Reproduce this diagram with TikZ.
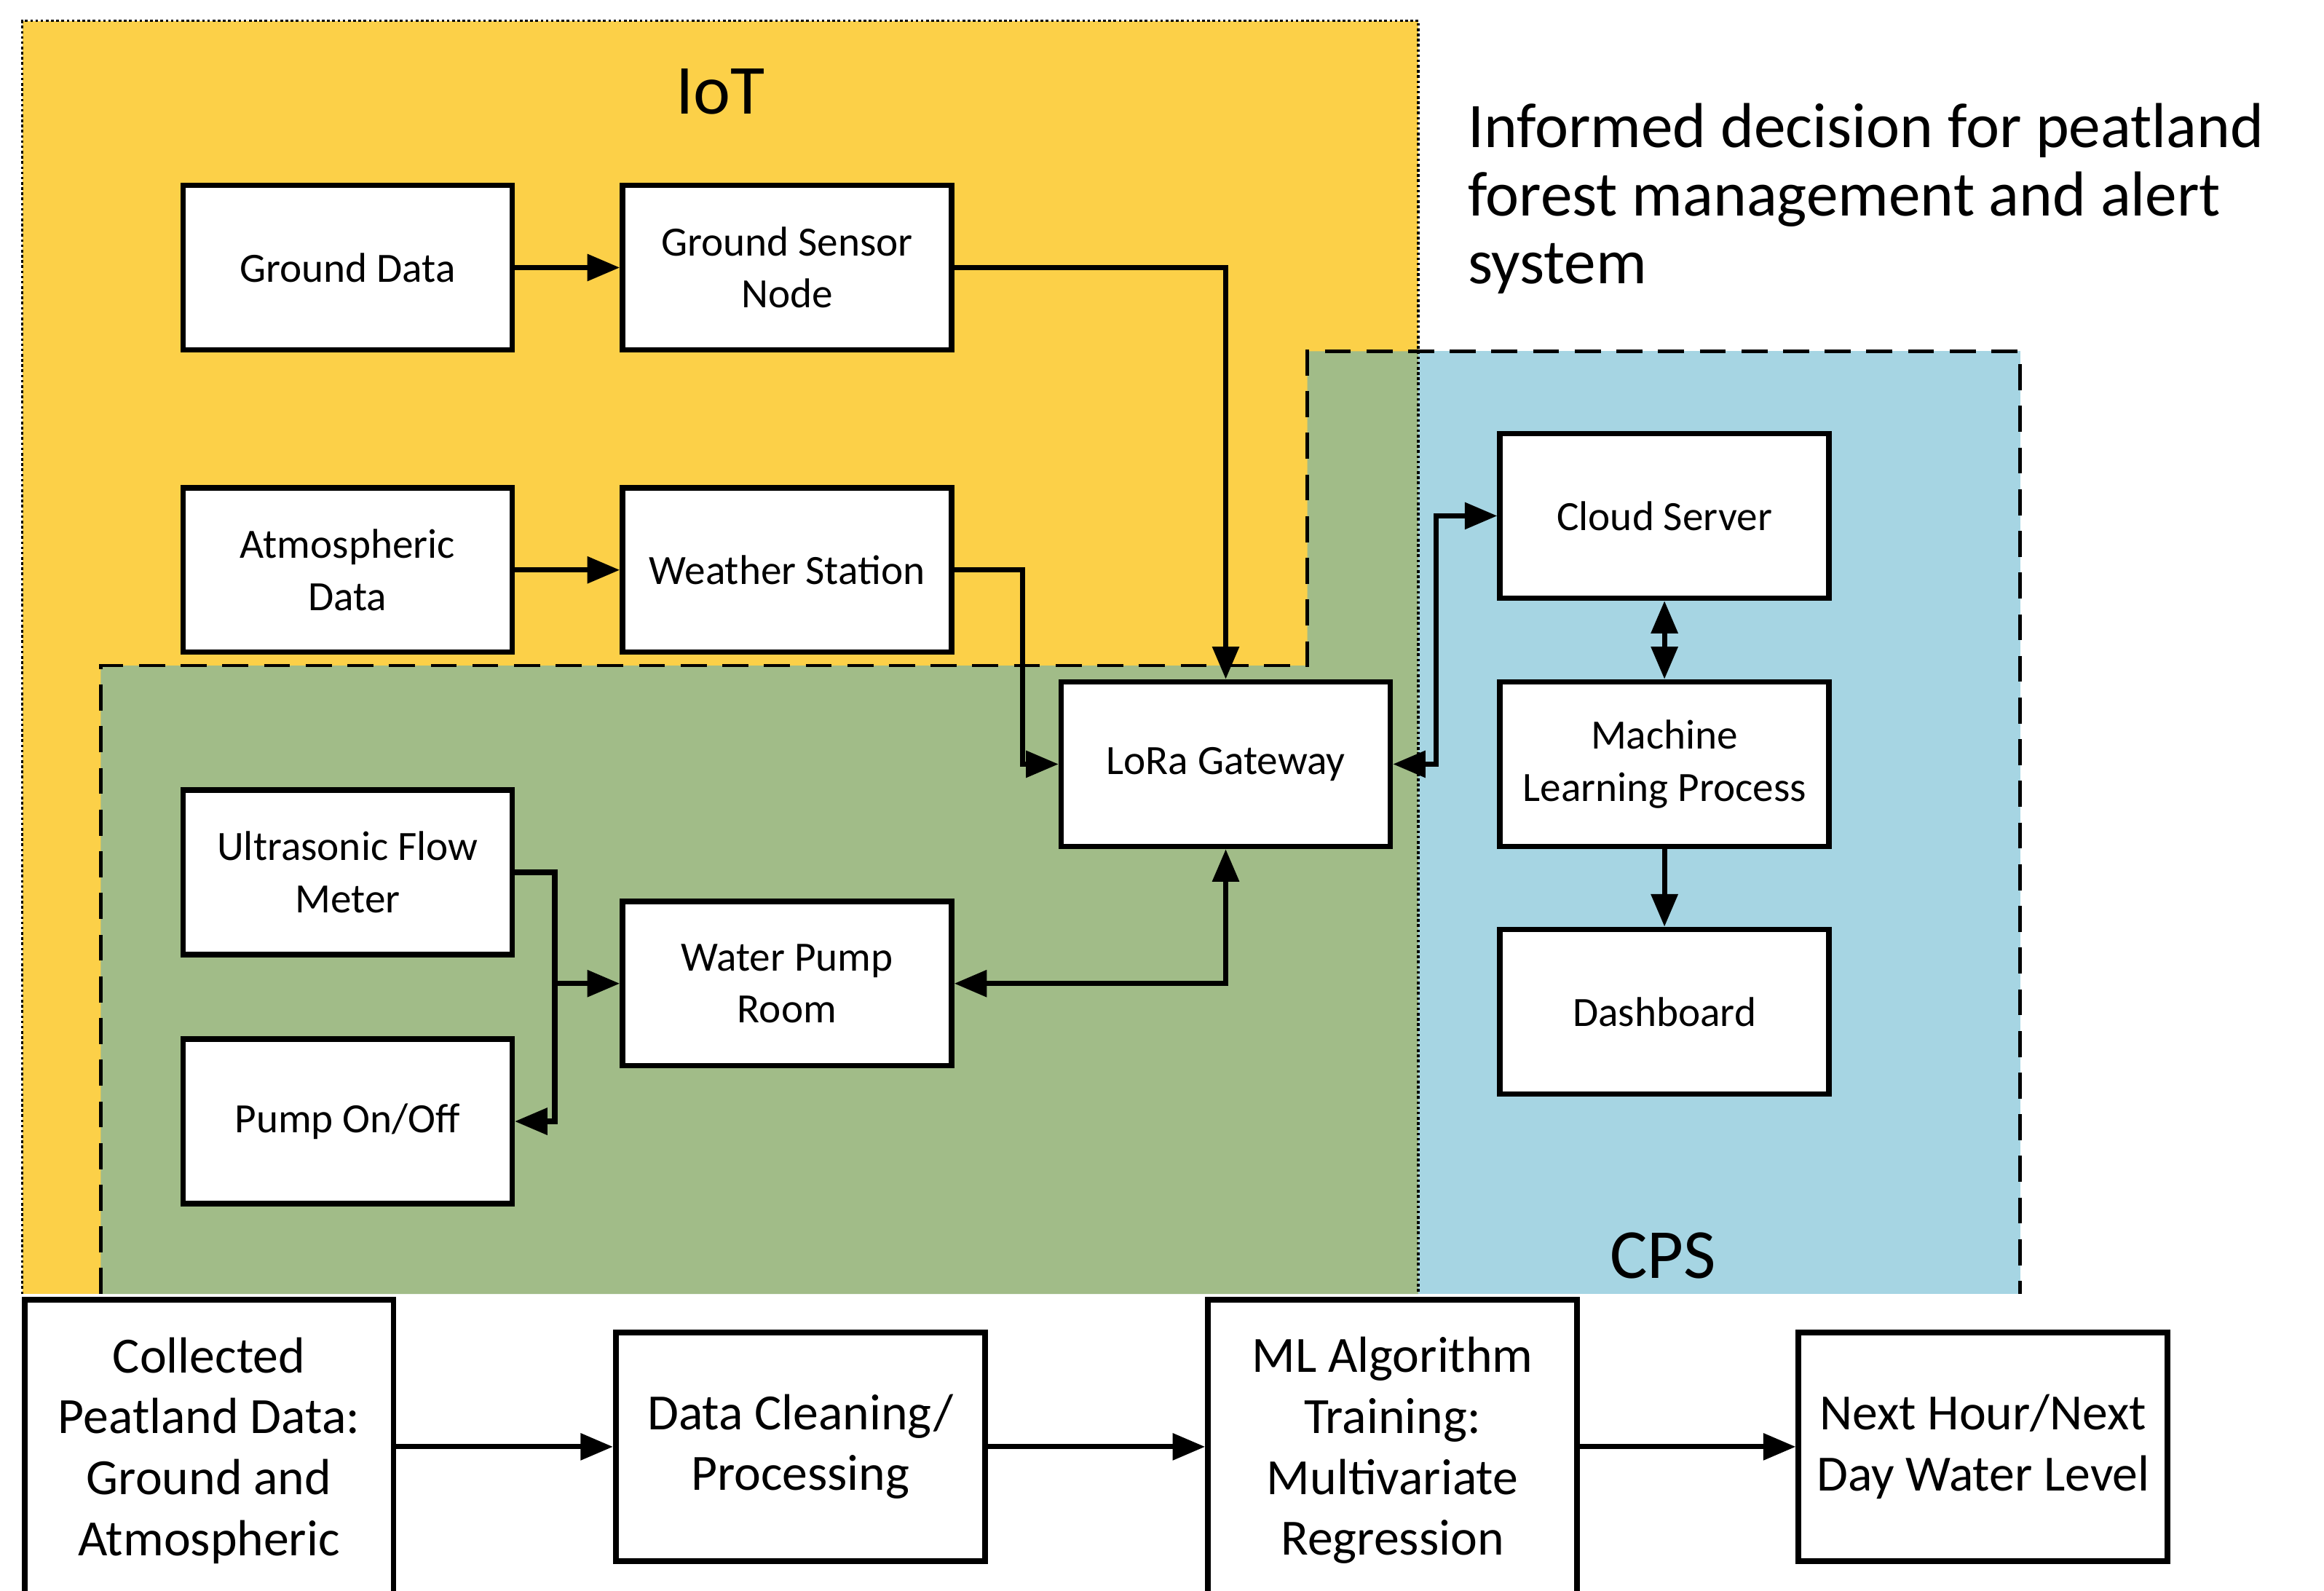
\documentclass[tikz,border=0pt]{standalone}
\usepackage{fontspec}
\setmainfont{Carlito}
\usetikzlibrary{arrows.meta}
\definecolor{iotyellow}{RGB}{252,208,72}
\definecolor{overgreen}{RGB}{161,188,136}
\definecolor{cpsblue}{RGB}{166,213,227}
\tikzset{
  tip/.tip={Triangle[length=12.5pt,width=10pt]},
  box/.style={draw, line width=2.1pt, fill=white, minimum width=4.44cm, minimum height=2.22cm,
    align=center, inner sep=0pt, font=\fontsize{16}{20}\selectfont},
  flowbox/.style={draw, line width=2.2pt, fill=white, minimum width=4.98cm,
    align=center, inner sep=0pt, font=\fontsize{19.5}{23.4}\selectfont},
  conn/.style={line width=2pt, -tip},
  conn2/.style={line width=2pt, tip-tip},
  regiontitle/.style={inner sep=0pt, font=\fontsize{27}{32}\selectfont},
  iotborder/.style={line width=1pt, dash pattern=on 1pt off 1pt},
  cpsborder/.style={line width=1.3pt, dash pattern=on 10pt off 6pt},
}
\begin{document}
\begin{tikzpicture}[x=0.02cm,y=-0.02cm]
\useasboundingbox (0,0) rectangle (1568,1073);
\clip (0,0) rectangle (1568,1073);
% regions
\fill[iotyellow] (15,14) rectangle (957,873);
\fill[overgreen] (68,873) -- (68,449) -- (882,449) -- (882,237) -- (957,237) -- (957,873) -- cycle;
\fill[cpsblue] (957,237) rectangle (1363,873);
\draw[cpsborder] (68,873) -- (68,449) -- (882,449) -- (882,237) -- (1363,237) -- (1363,873);
\draw[iotborder] (15,873) -- (15,14) -- (957,14) -- (957,873);
% titles
\node[regiontitle] (iot) at (486,62) {IoT};
\node[regiontitle] (cps) at (1122,847) {CPS};
\node[anchor=west, align=left, inner sep=0pt, font=\fontsize{24.4}{26.2}\selectfont] (goal) at (990,134)
  {Informed decision for peatland\\forest management and alert\\system};
% boxes
\node[box] (gd) at (234.5,180.5) {Ground Data};
\node[box] (gsn) at (531,180.5) {Ground Sensor\\Node};
\node[box] (ad) at (234.5,384.5) {Atmospheric\\Data};
\node[box] (ws) at (531,384.5) {Weather Station};
\node[box] (lora) at (827,515.5) {LoRa Gateway};
\node[box] (ufm) at (234.5,588.5) {Ultrasonic Flow\\Meter};
\node[box] (wpr) at (531,663.5) {Water Pump\\Room};
\node[box] (pump) at (234.5,756.5) {Pump On/Off};
\node[box] (cloud) at (1123,348) {Cloud Server};
\node[box] (mlp) at (1123,515.5) {Machine\\Learning Process};
\node[box] (dash) at (1123,682.5) {Dashboard};
% connectors
\draw[conn] (gd) -- (gsn);
\draw[conn] (gsn.east) -| (lora.north);
\draw[conn] (ad) -- (ws);
\draw[conn] (ws.east) -- ++(46,0) |- (lora.west);
\draw[conn2] (lora.east) -- ++(29,0) |- (cloud.west);
\draw[conn2] (cloud) -- (mlp);
\draw[conn] (mlp) -- (dash);
\path (ufm.east) ++(27,0) coordinate (split);
\draw[conn] (ufm.east) -- (split) |- (pump.east);
\draw[conn] (split |- wpr.west) -- (wpr.west);
\draw[conn2] (wpr.east) -| (lora.south);
% bottom flow
\node[flowbox, minimum height=4.06cm] (coll) at (141,978.5)
  {Collected\\Peatland Data:\\Ground and\\Atmospheric};
\node[flowbox, minimum height=3.08cm] (clean) at (540,976) {Data Cleaning/\\Processing};
\node[flowbox, minimum height=4.06cm] (mlalg) at (939.5,978.5)
  {ML Algorithm\\Training:\\Multivariate\\Regression};
\node[flowbox, minimum height=3.08cm] (next) at (1338,976) {Next Hour/Next\\Day Water Level};
\draw[conn] (coll.east |- clean.west) -- (clean.west);
\draw[conn] (clean.east) -- (clean.east -| mlalg.west);
\draw[conn] (mlalg.east |- next.west) -- (next.west);
\end{tikzpicture}
\end{document}
